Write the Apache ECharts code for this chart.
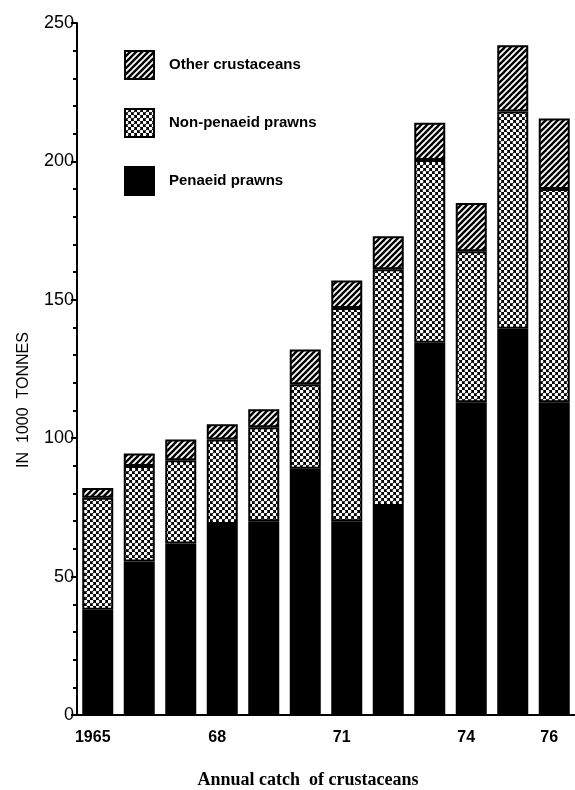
<!DOCTYPE html>
<html>
<head>
<meta charset="utf-8">
<script src="https://cdn.jsdelivr.net/npm/echarts@6/dist/echarts.min.js"></script>
<style>
html,body{margin:0;padding:0;background:#fff;}
#chart{width:575px;height:790px;}
</style>
</head>
<body>
<div id="chart"></div>
<script>
// ---- data ----
var years = ['1965','1966','1967','1968','1969','1970','1971','1972','1973','1974','1975','1976'];
var xTickLabels = ['1965','','','68','','','71','','','74','','76'];
var penaeid    = [38, 55.5, 62, 69, 70, 89, 70, 75.5, 134.5, 113, 139.5, 113];
var nonPenaeid = [40.5, 34.5, 30, 30.5, 34, 30.5, 77, 85.5, 66, 54.5, 78.5, 77];
var otherCrust = [3.5, 4.5, 7.5, 5.5, 6.5, 12.5, 10, 12, 13.5, 17.5, 24, 25.5];
var yTicks = [0, 50, 100, 150, 200, 250];
var seriesNames = ['Other crustaceans', 'Non-penaeid prawns', 'Penaeid prawns'];

// ---- patterns ----
function hatchPattern() {
  var c = document.createElement('canvas');
  c.width = 6; c.height = 6;
  var g = c.getContext('2d');
  g.fillStyle = '#fff'; g.fillRect(0, 0, 6, 6);
  g.strokeStyle = '#000'; g.lineWidth = 2.4;
  for (var k = -1; k <= 1; k++) {
    g.beginPath();
    g.moveTo(-6 + k * 6, 12); g.lineTo(12 + k * 6, -6);
    g.stroke();
  }
  return { image: c, repeat: 'repeat' };
}
function stipplePattern() {
  var c = document.createElement('canvas');
  c.width = 6; c.height = 6;
  var g = c.getContext('2d');
  g.fillStyle = '#000'; g.fillRect(0, 0, 6, 6);
  g.fillStyle = '#fff';
  var pts = [[1.5, 1.5], [4.5, 4.5]];
  pts.forEach(function (p) {
    g.beginPath(); g.arc(p[0], p[1], 1.85, 0, Math.PI * 2); g.fill();
  });
  return { image: c, repeat: 'repeat' };
}

var chart = echarts.init(document.getElementById('chart'), null, { renderer: 'canvas' });
var barW = 31;
var option = {
  animation: false,
  backgroundColor: '#fff',
  grid: { left: 77, right: -12, top: 23, bottom: 75, containLabel: false },
  legend: {
    orient: 'vertical',
    left: 124, top: 50, padding: 0,
    icon: 'rect',
    itemWidth: 29, itemHeight: 28, itemGap: 28,
    data: seriesNames,
    textStyle: { fontFamily: 'Liberation Sans', fontSize: 15, fontWeight: 'bold', color: '#000', padding: [0, 0, 0, 10] }
  },
  xAxis: {
    type: 'category',
    data: years,
    axisLine: { lineStyle: { color: '#000', width: 2 } },
    axisTick: { show: false },
    axisLabel: {
      interval: 0, margin: 15,
      fontFamily: 'Liberation Sans', fontSize: 16, fontWeight: 'bold', color: '#000',
      padding: [0, 10, 0, 0],
      formatter: function (v, i) { return xTickLabels[i]; }
    }
  },
  yAxis: {
    type: 'value', min: yTicks[0], max: yTicks[yTicks.length - 1], interval: 50,
    splitLine: { show: false },
    axisLine: { show: true, lineStyle: { color: '#000', width: 2 } },
    axisTick: { show: true, inside: false, length: 6, lineStyle: { color: '#000', width: 2 } },
    minorTick: { show: true, splitNumber: 5, length: 4, lineStyle: { color: '#000', width: 2 } },
    axisLabel: { margin: 3, fontFamily: 'Liberation Sans', fontSize: 18, color: '#000' }
  },
  series: [
    {
      name: 'Penaeid prawns', type: 'bar', stack: 'total', barWidth: barW, data: penaeid,
      itemStyle: { color: '#000', borderColor: '#000', borderWidth: 2 }
    },
    {
      name: 'Non-penaeid prawns', type: 'bar', stack: 'total', barWidth: barW, data: nonPenaeid,
      itemStyle: { color: stipplePattern(), borderColor: '#000', borderWidth: 2 }
    },
    {
      name: 'Other crustaceans', type: 'bar', stack: 'total', barWidth: barW, data: otherCrust,
      itemStyle: { color: hatchPattern(), borderColor: '#000', borderWidth: 2 }
    }
  ],
  graphic: [
    {
      type: 'text', x: 24, y: 400, rotation: Math.PI / 2,
      style: { text: 'IN  1000  TONNES', fontFamily: 'Liberation Sans', fontSize: 16, fill: '#000',
        align: 'center', verticalAlign: 'middle' }
    },
    {
      type: 'text', x: 308, y: 780,
      style: { text: 'Annual catch  of crustaceans', fontFamily: 'Liberation Serif', fontSize: 18, fontWeight: 'bold', fill: '#000',
        align: 'center', verticalAlign: 'middle' }
    }
  ]
};
chart.setOption(option);
</script>
</body>
</html>
